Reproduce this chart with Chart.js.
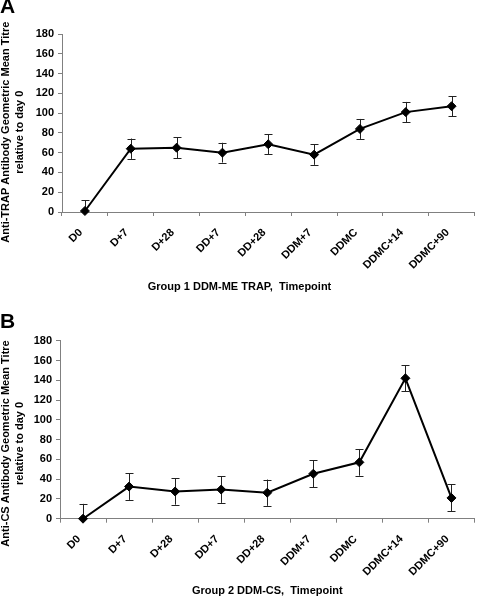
<!DOCTYPE html>
<html><head><meta charset="utf-8">
<script src="https://cdn.jsdelivr.net/npm/chart.js@4.4.1/dist/chart.umd.min.js"></script>
<style>html,body{margin:0;padding:0;background:#fff;}canvas{display:block;}</style>
</head><body>
<canvas id="cA" width="480" height="300"></canvas>
<canvas id="cB" width="480" height="298"></canvas>
<script>
const categories = ['D0','D+7','D+28','DD+7','DD+28','DDM+7','DDMC','DDMC+14','DDMC+90'];
const trapValues = [1, 64, 65, 60, 68.5, 58, 84, 101, 107];
const trapErrors = [11, 10.3, 10.5, 10, 10, 10.3, 10.1, 10.3, 10.1];
const csValues = [0, 32.5, 27.5, 29.5, 26.3, 45.5, 57, 142, 21];
const csErrors = [15, 13.5, 13.3, 13.5, 13.3, 13.5, 13.5, 13.3, 13.6];
const yMin = 0, yMax = 180, yStep = 20;
const trapYTitle = ['Anti-TRAP Antibody Geometric Mean Titre      ', 'relative to day 0      '];
const csYTitle = ['Anti-CS Antibody Geometric Mean Titre         ', 'relative to day 0         '];
const trapXTitle = 'Group 1 DDM-ME TRAP,  Timepoint';
const csXTitle = 'Group 2 DDM-CS,  Timepoint';

Chart.defaults.font.family = "'Liberation Sans', Arial, sans-serif";
Chart.defaults.font.size = 11;
Chart.defaults.font.weight = 'bold';
Chart.defaults.color = '#000';

const errorBars = {
  id: 'errorBars',
  beforeDatasetsDraw(chart, args, opts) {
    const ctx = chart.ctx, area = chart.chartArea;
    const meta = chart.getDatasetMeta(0);
    const ys = chart.scales.y;
    const vals = chart.data.datasets[0].data;
    ctx.save();
    ctx.beginPath();
    ctx.rect(area.left, area.top - 10, area.right - area.left, area.bottom - area.top + 10);
    ctx.clip();
    ctx.strokeStyle = '#222';
    ctx.lineWidth = 1;
    meta.data.forEach((pt, i) => {
      const x = Math.round(pt.x) + 0.5;
      const hi = ys.getPixelForValue(vals[i] + opts.errors[i]);
      const lo = ys.getPixelForValue(vals[i] - opts.errors[i]);
      ctx.beginPath();
      ctx.moveTo(x, hi); ctx.lineTo(x, lo);
      ctx.moveTo(x - 4, Math.round(hi) + 0.5); ctx.lineTo(x + 4, Math.round(hi) + 0.5);
      ctx.moveTo(x - 4, Math.round(lo) + 0.5); ctx.lineTo(x + 4, Math.round(lo) + 0.5);
      ctx.stroke();
    });
    ctx.restore();
  }
};

function makeChart(id, letter, values, errors, yTitle, xTitle, cfg) {
  const plugins = {
    legend: {display: false},
    tooltip: {enabled: false},
    title: {display: true, text: letter, align: 'start', font: {size: 21, weight: 'bold', lineHeight: 1}, padding: cfg.titlePad},
    errorBars: {errors: errors}
  };
  if (cfg.subtitle) {
    plugins.subtitle = {display: true, text: xTitle, position: 'bottom', font: {size: 11, weight: 'bold', lineHeight: 1.2}, padding: {top: 0, bottom: 6}};
  }
  return new Chart(document.getElementById(id), {
    type: 'line',
    data: {
      labels: categories,
      datasets: [{
        data: values,
        borderColor: '#000',
        borderWidth: 2,
        tension: 0,
        pointStyle: 'rectRot',
        pointRadius: 4.5,
        pointBackgroundColor: '#000',
        pointBorderColor: '#000',
        pointBorderWidth: 1,
        clip: false
      }]
    },
    options: {
      responsive: false,
      animation: false,
      devicePixelRatio: 1,
      layout: {padding: {left: 0, right: 1, top: 0, bottom: 0}},
      plugins: plugins,
      scales: {
        x: {
          offset: true,
          grid: {offset: true, drawOnChartArea: false, drawTicks: true, tickLength: 4, color: '#808080'},
          border: {color: '#808080', width: 1},
          ticks: {minRotation: 45, maxRotation: 45, padding: 10, labelOffset: -4, font: {size: 11, weight: 'bold'}},
          title: {display: !cfg.subtitle, text: xTitle, font: {size: 11, weight: 'bold', lineHeight: 1.2}, padding: {top: 0, bottom: 0}},
          afterFit: s => { s.height = cfg.xHeight; }
        },
        y: {
          min: yMin, max: yMax,
          ticks: {stepSize: yStep, padding: 4, font: {size: 11, weight: 'bold'}},
          grid: {drawOnChartArea: false, drawTicks: true, tickLength: 4, color: '#808080'},
          border: {color: '#808080', width: 1},
          title: {display: true, text: yTitle, font: {size: 11, weight: 'bold', lineHeight: 1.3}, padding: {top: -1, bottom: 0}},
          afterFit: s => { s.width = cfg.yWidth; }
        }
      }
    },
    plugins: [errorBars]
  });
}

makeChart('cA', 'A', trapValues, trapErrors, trapYTitle, trapXTitle,
  {titlePad: {top: -3, bottom: 16}, xHeight: 68.8, yWidth: 62, subtitle: true});
makeChart('cB', 'B', csValues, csErrors, csYTitle, csXTitle,
  {titlePad: {top: 12, bottom: 7.7}, xHeight: 79.3, yWidth: 60, subtitle: false});
</script>
</body></html>
